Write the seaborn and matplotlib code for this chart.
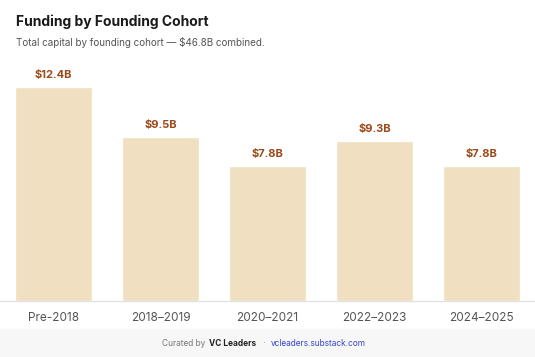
import pandas as pd
import seaborn as sns
import matplotlib.pyplot as plt

# data
cohorts = ["Pre-2018", "2018–2019", "2020–2021", "2022–2023", "2024–2025"]
funding_b = [12.4, 9.5, 7.8, 9.3, 7.8]
labels = ["$12.4B", "$9.5B", "$7.8B", "$9.3B", "$7.8B"]

df = pd.DataFrame({"cohort": cohorts, "funding": funding_b})

sns.set_style("white")
plt.rcParams['font.family'] = ['Inter', 'DejaVu Sans']

W, H = 535, 357
fig = plt.figure(figsize=(W / 100, H / 100), dpi=100)

# footer band
fig.patches.append(plt.Rectangle((0, 0), 1, 28 / H, transform=fig.transFigure,
                                 color="#f7f7f7", zorder=0))

ax = fig.add_axes([0, (H - 301) / H, 1, (301 - 50) / H])
sns.barplot(data=df, x="cohort", y="funding", color="#f0dfc0", width=0.72,
            saturation=1, ax=ax)
ax.set_ylim(0, 14.55)
ax.set_xlim(-0.5, 4.5)
ax.set_xlabel("")
ax.set_ylabel("")
ax.set_yticks([])
for s in ["top", "left", "right"]:
    ax.spines[s].set_visible(False)
ax.spines["bottom"].set_color("#e2e2e2")
ax.spines["bottom"].set_linewidth(1)
ax.tick_params(axis="x", length=0, pad=8, labelsize=8.5, labelcolor="#555555")

for i, (v, lab) in enumerate(zip(funding_b, labels)):
    ax.annotate(lab, (i, v), xytext=(0, 5), textcoords="offset points",
                ha="center", va="bottom", fontsize=8, fontweight="bold",
                color="#9c4a1a")

fig.text(16 / W, 1 - 22 / H, "Funding by Founding Cohort", fontsize=10,
         fontweight="bold", color="#1a1a1a", va="center")
fig.text(16 / W, 1 - 42 / H, "Total capital by founding cohort — $46.8B combined.",
         fontsize=7.1, color="#555555", va="center")

fig.text(208 / W, 14 / H, "Curated by ", fontsize=6, color="#777777",
         ha="right", va="center")
fig.text(209 / W, 14 / H, "VC Leaders", fontsize=6, color="#222222",
         fontweight="bold", ha="left", va="center")
fig.text(264 / W, 14 / H, "·", fontsize=7, color="#999999", ha="center", va="center")
fig.text(271 / W, 14 / H, "vcleaders.substack.com", fontsize=6,
         color="#3344cc", ha="left", va="center")

fig.savefig("out.png", dpi=100)
